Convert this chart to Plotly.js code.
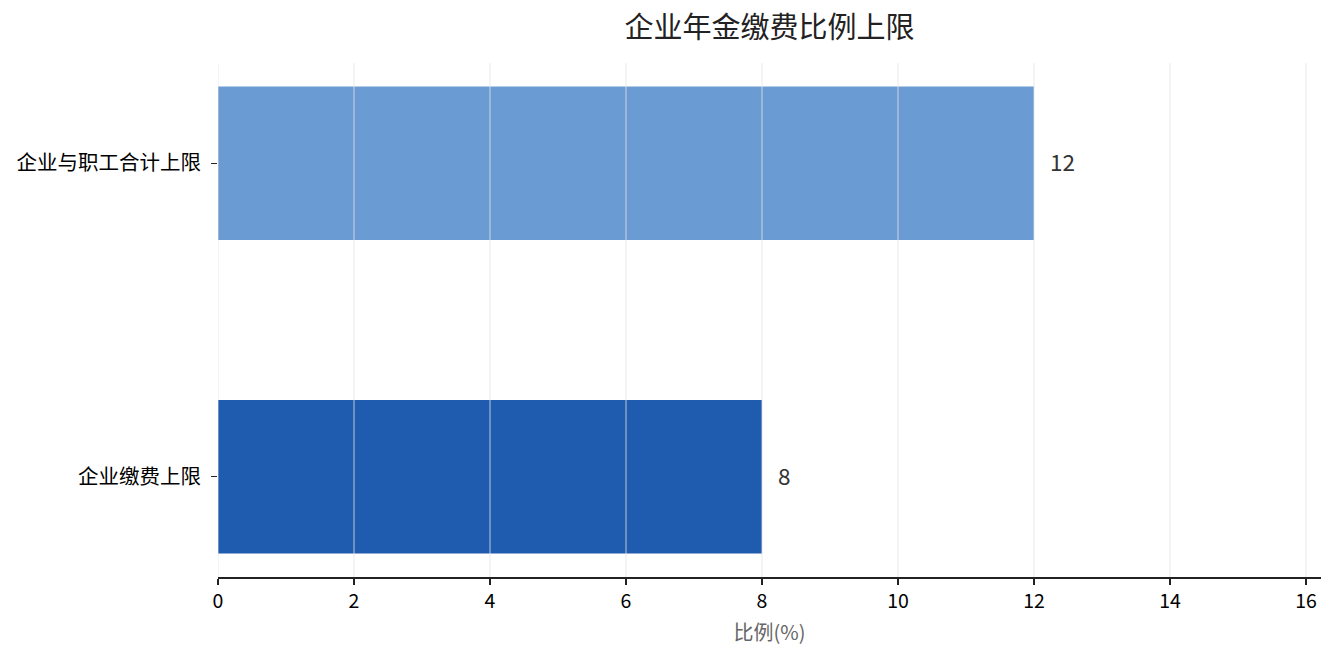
<!DOCTYPE html>
<html>
<head>
<meta charset="utf-8">
<script src="https://cdn.plot.ly/plotly-3.0.1.min.js"></script>
<style>
  html, body { margin: 0; padding: 0; background: #fff; }
  #chart { width: 1335px; height: 660px; }
</style>
</head>
<body>
<div id="chart"></div>
<script>
// categories bottom to top, with their upper limits (%)
var categories = ['企业缴费上限', '企业与职工合计上限'];
var limits = [8, 12];
var barColors = ['#1f5baf', '#6b9bd3'];
var xTicks = [0, 2, 4, 6, 8, 10, 12, 14, 16];

var font = '"Noto Sans CJK SC", "Noto Sans", sans-serif';

var plot_data = [{
    type: 'bar',
    orientation: 'h',
    x: limits,
    y: categories,
    width: 0.49,
    marker: { color: barColors, line: { width: 0 } },
    hoverinfo: 'none'
}];

// value labels just right of each bar
var annotations = limits.map(function(v, i) {
    return {
        x: v, y: categories[i], xref: 'x', yref: 'y',
        text: String(v), showarrow: false,
        xanchor: 'left', xshift: 14, yshift: 2,
        font: { family: font, size: 22.5, color: '#333333' }
    };
});

// grid drawn over the bars, as in the reference
var shapes = xTicks.map(function(t) {
    return {
        type: 'line', layer: 'above',
        xref: 'x', yref: 'paper',
        x0: t, x1: t, y0: 0, y1: 1,
        line: { color: '#e4e4e4', width: 0.8 }
    };
});

var layout = {
    width: 1335,
    height: 660,
    margin: { l: 218, r: 14, t: 63, b: 83 },
    paper_bgcolor: '#ffffff',
    plot_bgcolor: '#ffffff',
    showlegend: false,
    font: { family: font, color: '#000000' },
    title: {
        text: '企业年金缴费比例上限',
        x: 0.5, xref: 'paper',
        y: 0.958, yref: 'container', yanchor: 'middle',
        font: { family: font, size: 29, color: '#222222' }
    },
    xaxis: {
        range: [0, 16.22],
        tickvals: xTicks,
        ticktext: xTicks.map(String),
        showgrid: false,
        zeroline: false,
        showline: true,
        linecolor: '#222222',
        linewidth: 1.5,
        ticks: 'outside',
        ticklen: 6,
        tickwidth: 1.5,
        tickcolor: '#222222',
        tickfont: { family: font, size: 19.5, color: '#000000' },
        title: {
            text: '比例(%)',
            standoff: 13,
            font: { family: font, size: 20, color: '#666666' }
        }
    },
    yaxis: {
        type: 'category',
        range: [-0.32, 1.32],
        showgrid: false,
        zeroline: false,
        showline: false,
        ticks: 'outside',
        ticklen: 6,
        tickwidth: 1.5,
        tickcolor: '#222222',
        ticklabelstandoff: 6,
        tickfont: { family: font, size: 20.5, color: '#000000' }
    },
    annotations: annotations,
    shapes: shapes
};

Plotly.newPlot('chart', plot_data, layout, { displayModeBar: false, staticPlot: true });
</script>
</body>
</html>
